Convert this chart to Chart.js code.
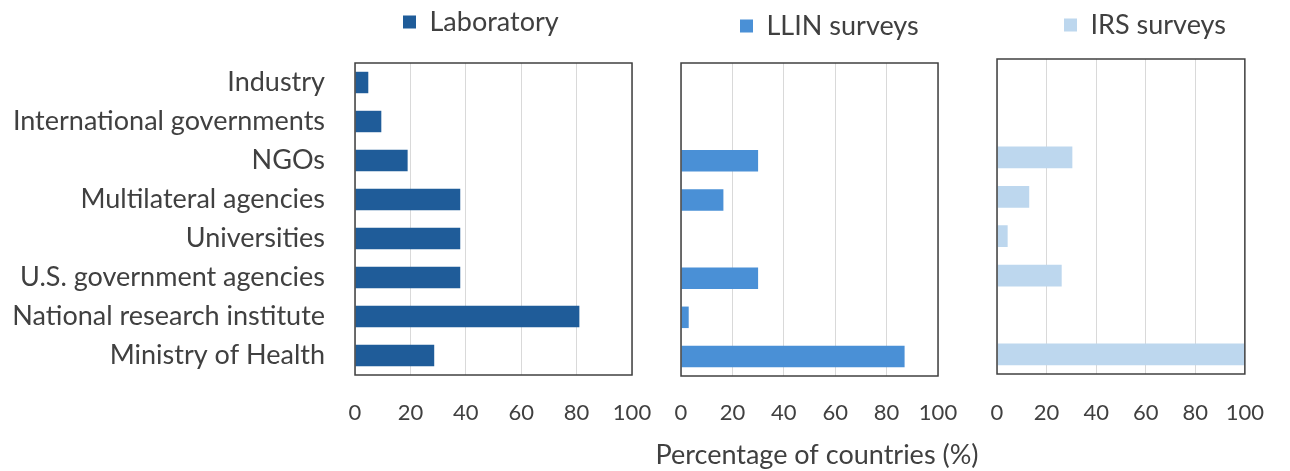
<!DOCTYPE html>
<html>
<head>
<meta charset="utf-8">
<script src="https://cdn.jsdelivr.net/npm/chart.js@4.4.1/dist/chart.umd.min.js"></script>
<style>
  html, body { margin: 0; padding: 0; background: #fff; }
  #wrap { position: relative; width: 1290px; height: 471px; }
  #wrap canvas { position: absolute; left: 0; top: 0; }
</style>
</head>
<body>
<div id="wrap">
  <canvas id="labChart" width="1290" height="471"></canvas>
  <canvas id="llinChart" width="1290" height="471"></canvas>
  <canvas id="irsChart" width="1290" height="471"></canvas>
</div>
<script>
const categories = [
  "Industry",
  "International governments",
  "NGOs",
  "Multilateral agencies",
  "Universities",
  "U.S. government agencies",
  "National research institute",
  "Ministry of Health",
];
const laboratory = [4.8, 9.5, 19, 38, 38, 38, 81, 28.6];
const llinSurveys = [null, null, 30, 16.5, null, 30, 3, 87];
const irsSurveys = [null, null, 30.4, 13, 4.3, 26.1, null, 100];
const xTicks = [0, 20, 40, 60, 80, 100];

const FS = 27; // labels, legend, title
const TICK_FS = 22;
const TEXT = "#404040";

Chart.defaults.font.family = "Lato, 'Open Sans', sans-serif";
Chart.defaults.font.size = FS;
Chart.defaults.color = TEXT;

// box round each plot
const frame = {
  id: "frame",
  afterDatasetsDraw(chart) {
    const { ctx, chartArea: a } = chart;
    ctx.save();
    ctx.strokeStyle = "#404040";
    ctx.lineWidth = 1.5;
    ctx.strokeRect(a.left, a.top, a.right - a.left, a.bottom - a.top);
    ctx.restore();
  },
};

// move legend / title to where they sit in the original figure
const placeBoxes = {
  id: "placeBoxes",
  afterLayout(chart, args, opts) {
    const lg = chart.legend;
    if (opts.legend && lg) {
      const pad = lg.options.labels.padding;
      const w = lg.right - lg.left;
      const h = lg.bottom - lg.top;
      lg.left = opts.legend.x - pad;
      lg.right = lg.left + w;
      lg.top = opts.legend.y - pad - FS / 2;
      lg.bottom = lg.top + h;
    }
    const tb = chart.titleBlock;
    if (opts.title && tb) {
      const h = tb.bottom - tb.top;
      tb.left = opts.title.x - 220;
      tb.right = opts.title.x + 220;
      tb.top = opts.title.y - FS * 0.6;
      tb.bottom = tb.top + h;
    }
  },
};

function panel(id, label, data, color, p) {
  new Chart(document.getElementById(id), {
    type: "bar",
    data: {
      labels: categories,
      datasets: [
        {
          label: label,
          data: data,
          backgroundColor: color,
          borderWidth: 0,
          barPercentage: 0.55,
          categoryPercentage: 1,
        },
      ],
    },
    plugins: [frame, placeBoxes],
    options: {
      indexAxis: "y",
      responsive: false,
      animation: false,
      layout: { padding: p.padding, autoPadding: false },
      plugins: {
        legend: {
          align: "start",
          labels: {
            boxWidth: 13,
            boxHeight: 13,
            padding: 10,
            color: TEXT,
            font: { size: FS },
          },
        },
        title: {
          display: !!p.title,
          text: "Percentage of countries (%)",
          position: "bottom",
          padding: 0,
          color: TEXT,
          font: { size: FS, weight: "normal" },
        },
        tooltip: { enabled: false },
        placeBoxes: { legend: p.legend, title: p.title },
      },
      scales: {
        x: {
          min: 0,
          max: 100,
          afterBuildTicks: (s) => {
            s.ticks = xTicks.map((v) => ({ value: v }));
          },
          afterFit: (s) => {
            s.height = 50;
          },
          grid: { color: "#d9d9d9", drawTicks: false },
          border: { display: false },
          ticks: { padding: p.tickPad, color: TEXT, font: { size: TICK_FS } },
        },
        y: {
          display: !!p.showLabels,
          afterFit: (s) => {
            s.width = p.yWidth || 0;
          },
          grid: { display: false },
          border: { display: false },
          ticks: { padding: 22, color: TEXT, font: { size: FS } },
        },
      },
    },
  });
}

panel("labChart", "Laboratory", laboratory, "#1f5c99", {
  padding: { left: 0, right: 658, top: 16, bottom: 46 },
  showLabels: true,
  yWidth: 355,
  tickPad: 25,
  legend: { x: 403, y: 22 },
  });

panel("llinChart", "LLIN surveys", llinSurveys, "#4a90d6", {
  padding: { left: 681, right: 352, top: 16, bottom: 12.6 },
  tickPad: 24,
  legend: { x: 740, y: 26 },
  title: { x: 817, y: 455 },
});

panel("irsChart", "IRS surveys", irsSurveys, "#bdd7ee", {
  padding: { left: 997, right: 34, top: 12, bottom: 47 },
  tickPad: 26,
  legend: { x: 1064, y: 25 },
});
</script>
</body>
</html>
